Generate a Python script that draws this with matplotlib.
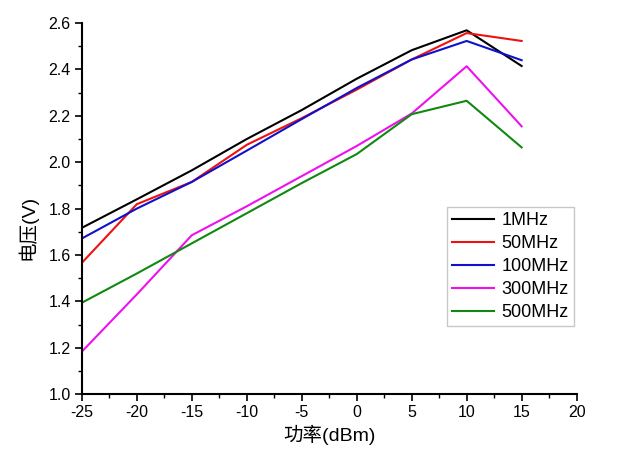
import matplotlib
matplotlib.use("Agg")
import matplotlib.pyplot as plt
from matplotlib.ticker import MultipleLocator

plt.rcParams['font.family'] = ['Liberation Sans', 'Noto Sans CJK SC', 'DejaVu Sans']
plt.rcParams['axes.unicode_minus'] = False

power = [-25, -20, -15, -10, -5, 0, 5, 10, 15]
v_1mhz = [1.717, 1.84, 1.965, 2.10, 2.225, 2.36, 2.483, 2.569, 2.415]
v_50mhz = [1.566, 1.819, 1.915, 2.075, 2.19, 2.313, 2.443, 2.557, 2.523]
v_100mhz = [1.671, 1.80, 1.915, 2.05, 2.186, 2.32, 2.443, 2.523, 2.44]
v_300mhz = [1.183, 1.43, 1.685, 1.81, 1.94, 2.07, 2.21, 2.414, 2.155]
v_500mhz = [1.394, 1.52, 1.65, 1.78, 1.91, 2.035, 2.207, 2.265, 2.064]
labels = ['1MHz', '50MHz', '100MHz', '300MHz', '500MHz']
colors = ['#000000', '#ee1111', '#1111cc', '#ee11ee', '#118811']

fig = plt.figure(figsize=(6.2, 4.62), dpi=100)
ax = fig.add_axes([0.132, 0.147, 0.798, 0.803])

for vals, lab, c in zip([v_1mhz, v_50mhz, v_100mhz, v_300mhz, v_500mhz], labels, colors):
    ax.plot(power, vals, color=c, lw=1.5, label=lab)

ax.set_xlim(-25, 20)
ax.set_ylim(1.0, 2.6)
ax.xaxis.set_major_locator(MultipleLocator(5))
ax.xaxis.set_minor_locator(MultipleLocator(2.5))
ax.yaxis.set_major_locator(MultipleLocator(0.2))
ax.yaxis.set_minor_locator(MultipleLocator(0.1))
ax.yaxis.set_major_formatter(matplotlib.ticker.FormatStrFormatter('%.1f'))

for s in ['top', 'right']:
    ax.spines[s].set_visible(False)
for s in ['left', 'bottom']:
    ax.spines[s].set_linewidth(1.5)
ax.tick_params(which='major', direction='out', length=5, width=1.2, labelsize=11.5, pad=3)
ax.tick_params(which='minor', direction='out', length=3, width=1.0)

ax.set_xlabel('功率(dBm)', fontsize=14, labelpad=3)
ax.set_ylabel('电压(V)', fontsize=14)
ax.yaxis.set_label_coords(-0.09, 0.45)

leg = ax.legend(loc='upper left', bbox_to_anchor=(0.7205, 0.5526), bbox_transform=fig.transFigure,
                borderaxespad=0, fontsize=13, frameon=True, fancybox=False, handlelength=2.3,
                handletextpad=0.45, labelspacing=0.33, borderpad=0.3)
leg.get_frame().set_edgecolor('#bbbbbb')
leg.get_frame().set_linewidth(1.0)

fig.savefig('out.png', dpi=100)
